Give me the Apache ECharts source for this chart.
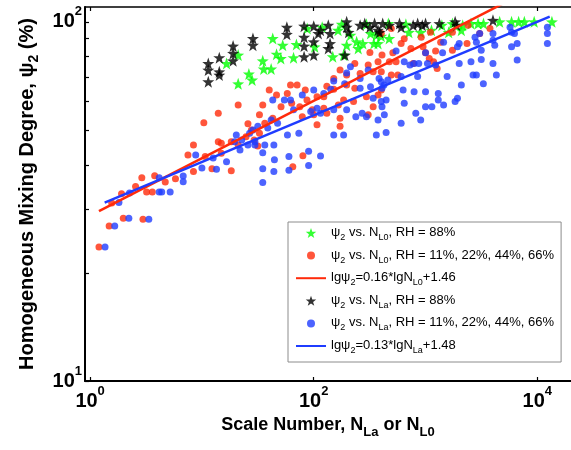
<!DOCTYPE html>
<html><head><meta charset="utf-8">
<script src="https://cdn.jsdelivr.net/npm/echarts@6/dist/echarts.min.js"></script>
<style>html,body{margin:0;padding:0;background:#fff}#c{width:571px;height:450px}</style>
</head><body><div id="c"></div>
<script>
// ψ2 vs N_L0, RH = 88%
const greenL0_88 = [[21.1,67.2],[16.6,76.6],[21.1,80.8],[26.3,71.6],[28.1,68.9],[35,77.9],[35.7,73.9],[41.6,73.9],[43,89.9],[52.8,86.1],[46.5,81.3],[50.8,79.1],[66,79.5],[70,86.5],[87.4,95.9],[102,85.2],[119,96.6],[148,80.0],[165,94.8],[185,80.8],[197,86.1],[213,91.8],[242,88.0],[250,84.3],[275,87.0],[322,92.8],[345,87.0],[402,91.2],[1130,94.8],[1400,97.9],[1740,98.9],[2150,97.9],[2550,98.9],[2950,98.9],[3300,98.9],[4600,100],[5880,100],[6800,100],[7650,100],[9370,100],[13500,100],[710,93.5],[905,93.5],[363,91.8],[473,89.9],[376,87.0],[1610,93.5],[2090,94.8],[465,99],[667,98.5],[296,98.5],[178,98.5]];
// ψ2 vs N_L0, RH = 11%, 22%, 44%, 66%
const redL0 = [[1.2,23.6],[1.48,27.0],[1.98,28.4],[2.97,28.2],[1.56,31.3],[1.91,33.2],[2.55,34.8],[2.9,36.8],[3.2,33.6],[3.6,33.6],[3.78,37.3],[4.7,35.8],[5.8,36.6],[7.5,42.6],[8.4,45.4],[8.4,38.3],[10.7,42.2],[12.3,39.0],[14,46.4],[14.9,43.1],[18.3,38.5],[18.3,46.4],
[318,82.2],[233,76.6],[307,75.8],[376,77.4],[172,73.4],[151,69.6],[197,71.1],[260,71.8],[340,72.6],[131,66.2],[151,64.9],[197,66.7],[233,65.3],[123,61.9],[87,60.6],[107,61.9],[84,64.6],[71,66.7],[62,66.7],[58,63.2],[46.5,62.6],[40,64.6],[51,58.0],[63.5,59.3],[75,58.0],[97,56.9],[123,57.5],[35,58.7],[21.1,58.7],[14,55.7],[10.4,52.4],[25.8,52.0],[32.7,55.1],[36.5,52.2],[43,53.9],[79,54.4],[100,55.1],[131,55.7],[172,53.9],[166,58.7],[185,60.6],[227,60.0],[296,61.9],[376,62.6],[27.7,50.0],[32.7,49.0],[24.8,47.9],[29.3,46.9],[21.1,45.4],[107,51.7],[172,51.2],[307,55.1],[340,58.0],[14.9,45.9],
[494,95.9],[402,92.8],[645,89.8],[915,90.6],[1105,93.5],[1365,87.8],[1740,93.5],[2400,97.9],[3050,92.8],[3770,95.9],[605,87.0],[740,84.3],[950,85.2],[1000,82.1],[1230,82.9],[2350,87.0],[1740,83.4],[510,82.1],[408,80.8],[475,77.4],[545,77.4],[402,72.6],[494,71.1],[775,76.6],[1080,79.1],[1180,77.4],[1270,74.2],[402,64.6],[565,71.1],
[31.6,45.1],[80,42.4],[65,39.5]];
// fit line lgψ2 = 0.16 lgN_L0 + 1.46 (end points)
const redFit = [[1.2,29.7],[5000,112.7]];
// ψ2 vs N_La, RH = 88%
const blackLa_88 = [[11.4,76.6],[11.4,73.4],[11.4,68.1],[14.3,79.5],[14.3,72.6],[14.3,71.1],[19,85.6],[19,81.7],[19,77.9],[28.6,89.9],[28.6,86.1],[57.5,96.6],[57.5,92.3],[82,97.3],[82,90.6],[82,85.6],[82,80.0],[100,97.3],[100,88.0],[100,80.8],[110,92.8],[115,94.8],[135,97.9],[140,92.8],[140,87.0],[135,84.3],[197,100],[197,96.6],[205,93.5],[190,80.8],[260,97.9],[286,98.9],[318,96.6],[350,98.9],[376,94.8],[414,98.9],[475,97.9],[585,98.9],[605,96.6],[775,97.9],[850,98.9],[935,97.9],[1000,98.9],[1330,98.9],[1840,100],[1900,97.9],[4010,101],[388,93.5]];
// ψ2 vs N_La, RH = 11%, 22%, 44%, 66%
const blueLa = [[1.36,23.6],[1.66,27.0],[2.22,28.4],[3.35,28.2],[1.81,31.4],[2.25,33.4],[4.15,33.6],[4.37,33.6],[5.2,33.6],[4.15,36.8],[6.8,37.2],[6.8,35.9],[8.8,42.6],[10,39.2],[13.5,38.9],[12.6,41.8],[16.6,40.8],[19.6,46.4],[21.9,44.0],[29.8,45.4],
[25.8,45.4],[35,43.2],[44,45.4],[44.5,41.3],[60,42.2],[90,43.6],[115,42.3],[35,39.0],[44,38.3],[60,38.6],[90,39.8],[35,35.7],
[213,75.0],[197,72.0],[189,67.2],[151,68.4],[260,69.6],[307,73.4],[260,65.3],[322,66.0],[384,69.6],[425,66.7],[142,64.9],[123,63.2],[100,64.6],[79,62.6],[62,60.6],[54.6,60.6],[43,60.6],[66,56.9],[94,56.3],[107,57.5],[115,55.7],[151,56.9],[197,56.9],[271,55.7],[340,61.3],[402,60.0],[238,54.4],[296,54.4],[376,53.3],[41.6,53.3],[47.5,52.2],[38.8,50.6],[31.6,51.2],[28.6,50.0],[26.7,49.0],[20.3,48.4],[22.7,46.9],[29.8,46.4],[36.5,45.4],[58.2,48.4],[73.6,49.0],[151,48.4],[185,48.4],[363,48.4],
[1450,87.8],[2000,87.0],[1930,85.2],[2770,90.6],[4010,92.8],[5700,96.6],[5880,93.5],[12300,96.6],[12300,92.8],[12300,87.0],[4010,88.9],[4160,86.1],[5880,85.2],[6600,87.0],[6600,78.3],[4010,76.6],[4300,71.1],[3150,83.4],[2550,77.4],[2660,71.1],[3290,67.2],[2000,76.6],[2090,66.7],[1930,61.3],[1840,60.0],[1450,58.7],[1300,60.6],[1300,63.2],[1560,70.4],[1230,75.8],[1000,82.1],[1420,82.1],[1040,76.6],[870,76.6],[850,70.4],[790,76.6],[725,75.8],[645,77.4],[605,70.4],[460,68.9],[402,68.1],[630,64.6],[408,65.3],[444,60.6],[408,58.0],[428,55.1],[790,63.9],[1000,63.9],[645,59.3],[1000,58.0],[1140,58.0],[818,55.7],[905,53.3],[605,52.2],[444,49.2],[545,82.9],[3050,92.8],[2850,87.8],[6240,92.8],[3150,78.6],[2850,71.1]];
// fit line lgψ2 = 0.13 lgN_La + 1.48
const blueFit = [[1.35,31.4],[12900,103.4]];

const xLabelValues = [1, 100, 10000];
const yLabelValues = [10, 100];
const yTickValues = [10, 20, 30, 40, 50, 60, 70, 80, 90, 100];

const STAR = 'path://M0,-10L2.35,-3.24L9.51,-3.09L3.8,1.24L5.88,8.09L0,4L-5.88,8.09L-3.8,1.24L-9.51,-3.09L-2.35,-3.24Z';
const DOT_ICON = 'path://M0,0M10,10M1,5A4,4,0,1,0,9,5A4,4,0,1,0,1,5Z';
const FONT = '"Liberation Sans", Arial, sans-serif';
const RED = '#ff2a0a', BLUE = '#1f3cff', GREEN = '#00ff00', BLACK = '#000000';

const legendText = {
  g88: '{t|ψ}{s|2}{t| vs. N}{s|L0}{t|, RH = 88%}',
  rL0: '{t|ψ}{s|2}{t| vs. N}{s|L0}{t|, RH = 11%, 22%, 44%, 66%}',
  fitL0: '{t|lgψ}{s|2}{t|=0.16*lgN}{s|L0}{t|+1.46}',
  k88: '{t|ψ}{s|2}{t| vs. N}{s|La}{t|, RH = 88%}',
  bLa: '{t|ψ}{s|2}{t| vs. N}{s|La}{t|, RH = 11%, 22%, 44%, 66%}',
  fitLa: '{t|lgψ}{s|2}{t|=0.13*lgN}{s|La}{t|+1.48}'
};

const supRich = {
  b: {fontSize: 20, fontWeight: 'bold', fontFamily: FONT, color: '#000', lineHeight: 33},
  p: {fontSize: 13, fontWeight: 'bold', fontFamily: FONT, color: '#000', lineHeight: 13, verticalAlign: 'top'}
};
const powLabel = v => '{b|10}{p|' + Math.round(Math.log10(v)) + '}';

const chart = echarts.init(document.getElementById('c'), null, {renderer: 'canvas'});
chart.setOption({
  animation: false,
  backgroundColor: '#fff',
  grid: {left: 85, top: 7, width: 492, height: 374, containLabel: false},
  xAxis: [{
    type: 'log', logBase: 10, min: 0.9, max: 20000, position: 'bottom',
    name: '{t|Scale Number, N}{s|La}{t| or N}{s|L0}',
    nameLocation: 'middle', nameGap: 25,
    nameTextStyle: {rich: {
      t: {fontSize: 18, fontWeight: 'bold', fontFamily: FONT, color: '#000', lineHeight: 20, verticalAlign: 'top'},
      s: {fontSize: 13, fontWeight: 'bold', fontFamily: FONT, color: '#000', lineHeight: 13, padding: [10,0,0,0], verticalAlign: 'top'}
    }},
    axisLine: {show: true, onZero: false, lineStyle: {color: '#000', width: 2}},
    axisTick: {show: true, inside: true, length: 4, customValues: xLabelValues, lineStyle: {color: '#000', width: 1.2}},
    axisLabel: {show: true, margin: 4, customValues: xLabelValues, formatter: powLabel, rich: supRich},
    splitLine: {show: false}, minorTick: {show: false}
  }, {
    type: 'log', logBase: 10, min: 0.9, max: 20000, position: 'top',
    axisLine: {show: true, onZero: false, lineStyle: {color: '#000', width: 1.5}},
    axisTick: {show: true, inside: true, length: 4, customValues: xLabelValues, lineStyle: {color: '#000', width: 1.2}},
    axisLabel: {show: false}, splitLine: {show: false}
  }],
  yAxis: [{
    type: 'log', logBase: 10, min: 10, max: 110,
    name: '{t|Homogeneous Mixing Degree, ψ}{s|2}{t| (%)}',
    nameLocation: 'middle', nameRotate: 90, nameGap: 45,
    nameTextStyle: {rich: {
      t: {fontSize: 20, fontWeight: 'bold', fontFamily: FONT, color: '#000', lineHeight: 22, verticalAlign: 'top'},
      s: {fontSize: 14, fontWeight: 'bold', fontFamily: FONT, color: '#000', lineHeight: 14, padding: [10,0,0,0], verticalAlign: 'top'}
    }},
    axisLine: {show: true, onZero: false, lineStyle: {color: '#000', width: 2}},
    axisTick: {show: true, inside: true, length: 4, customValues: yTickValues, lineStyle: {color: '#000', width: 1.2}},
    axisLabel: {show: true, margin: 3, customValues: yLabelValues, formatter: powLabel, rich: supRich},
    splitLine: {show: false}, minorTick: {show: false}
  }],
  legend: {
    orient: 'vertical', left: 288, top: 222,
    padding: [4, 7, 7, 7], itemGap: 6.6, itemWidth: 30, itemHeight: 10,
    backgroundColor: '#fff', borderColor: '#8c8c8c', borderWidth: 1, borderRadius: 0,
    selectedMode: false, align: 'left',
    data: [
      {name: 'g88', icon: STAR},
      {name: 'rL0', icon: DOT_ICON},
      {name: 'fitL0', itemStyle: {opacity: 0, color: 'transparent', borderWidth: 0}},
      {name: 'k88', icon: STAR},
      {name: 'bLa', icon: DOT_ICON},
      {name: 'fitLa', itemStyle: {opacity: 0, color: 'transparent', borderWidth: 0}}
    ],
    lineStyle: {width: 2},
    formatter: n => legendText[n],
    textStyle: {rich: {
      t: {fontSize: 13, fontFamily: FONT, color: '#000', lineHeight: 14, verticalAlign: 'top'},
      s: {fontSize: 9, fontFamily: FONT, color: '#000', lineHeight: 9, padding: [7,0,0,0], verticalAlign: 'top'}
    }}
  },
  series: [
    {name: 'g88', type: 'scatter', data: greenL0_88, symbol: STAR, symbolSize: 12, itemStyle: {color: GREEN}, emphasis: {disabled: true}},
    {name: 'rL0', type: 'scatter', data: redL0, symbol: 'circle', symbolSize: 7, itemStyle: {color: RED}, emphasis: {disabled: true}},
    {name: 'fitL0', type: 'line', data: redFit, showSymbol: false, symbol: 'none', clip: true, lineStyle: {color: RED, width: 2.5}, itemStyle: {color: RED}},
    {name: 'k88', type: 'scatter', data: blackLa_88, symbol: STAR, symbolSize: 12, itemStyle: {color: BLACK}, emphasis: {disabled: true}},
    {name: 'bLa', type: 'scatter', data: blueLa, symbol: 'circle', symbolSize: 7, itemStyle: {color: BLUE}, emphasis: {disabled: true}},
    {name: 'fitLa', type: 'line', data: blueFit, showSymbol: false, symbol: 'none', clip: true, lineStyle: {color: BLUE, width: 2.5}, itemStyle: {color: BLUE}}
  ]
});
</script>
</body></html>
